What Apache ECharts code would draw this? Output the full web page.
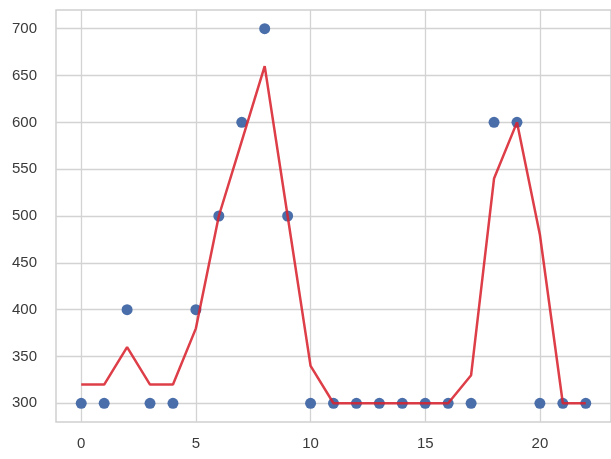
<!DOCTYPE html>
<html><head><meta charset="utf-8">
<script src="https://cdn.jsdelivr.net/npm/echarts@6/dist/echarts.min.js"></script>
<style>html,body{margin:0;padding:0;background:#fff}#c{width:611px;height:459px}</style>
</head><body><div id="c"></div>
<script>
const xs = [0,1,2,3,4,5,6,7,8,9,10,11,12,13,14,15,16,17,18,19,20,21,22];
const observed = [300,300,400,300,300,400,500,600,700,500,300,300,300,300,300,300,300,300,600,600,300,300,300];
const smoothed = [320,320,360,320,320,380,500,580,660,500,340,300,300,300,300,300,300,330,540,600,480,300,300];
const xTicks = [0,5,10,15,20];
const yTicks = [300,350,400,450,500,550,600,650,700];

const chart = echarts.init(document.getElementById('c'));
const labelStyle = {color:'#3a3a3a', fontSize:15, fontFamily:'Liberation Sans, Arial, sans-serif'};
chart.setOption({
  animation:false,
  backgroundColor:'#fff',
  grid:{left:56, right:0, top:10, bottom:37, show:true, borderColor:'#cfcfcf', borderWidth:1.5, containLabel:false},
  xAxis:{type:'value', min:-1.1, max:23.1,
    axisLine:{show:false}, axisTick:{show:false, customValues:xTicks},
    axisLabel:Object.assign({customValues:xTicks, margin:14}, labelStyle),
    splitLine:{show:true, lineStyle:{color:'#d3d3d3', width:1.3}}},
  yAxis:{type:'value', min:280, max:720,
    axisLine:{show:false}, axisTick:{show:false, customValues:yTicks},
    axisLabel:Object.assign({customValues:yTicks, margin:19}, labelStyle),
    splitLine:{show:true, lineStyle:{color:'#d3d3d3', width:1.3}}},
  series:[
    {type:'scatter', data:xs.map((x,i)=>[x,observed[i]]), symbolSize:11,
     itemStyle:{color:'#4a6ea9', opacity:1}, z:2},
    {type:'line', data:xs.map((x,i)=>[x,smoothed[i]]), showSymbol:false, symbol:'none',
     lineStyle:{color:'#d8232f', width:2.5, opacity:0.88}, z:3}
  ]
});
</script></body></html>
